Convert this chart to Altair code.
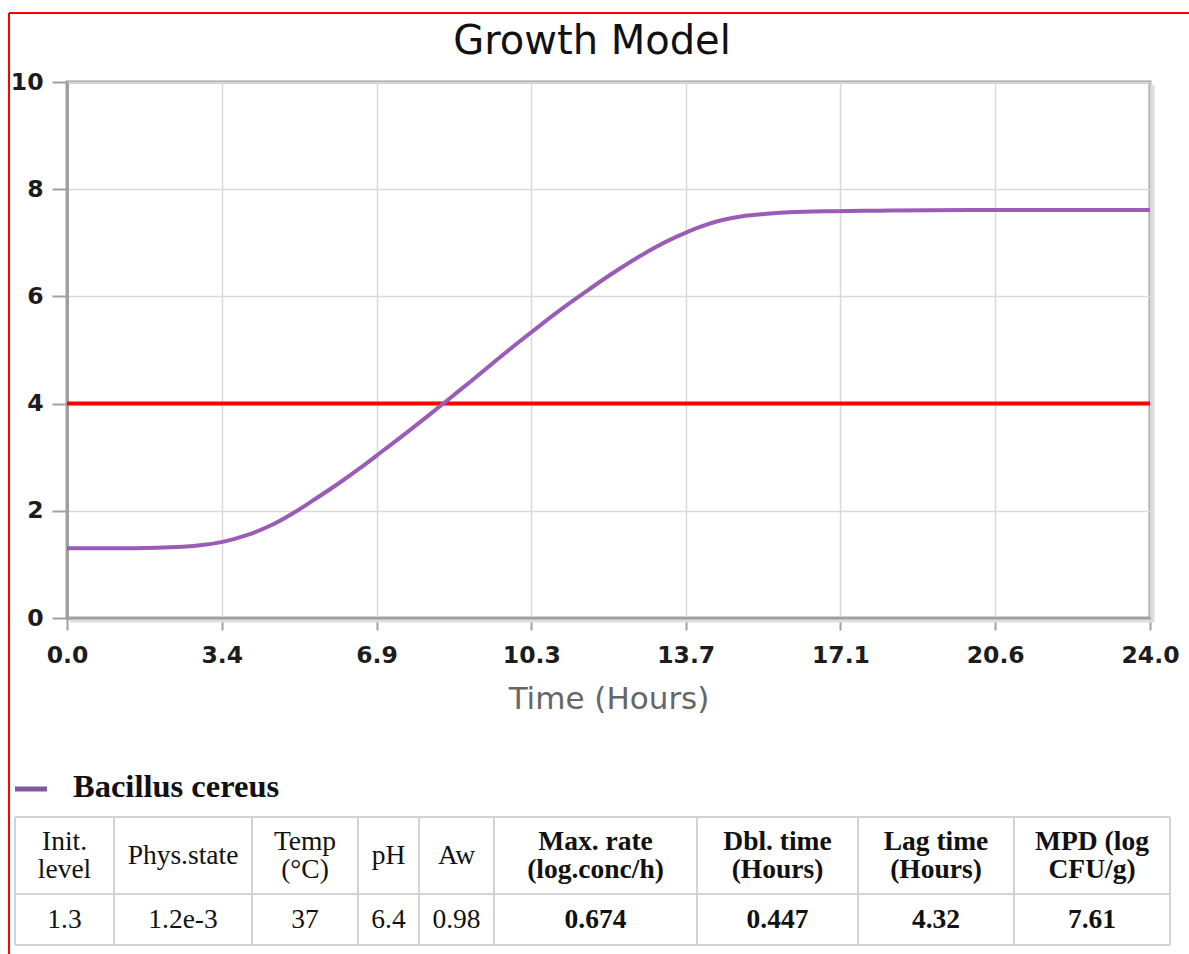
import altair as alt
import pandas as pd

# ---- data -------------------------------------------------------------
chart_title = "Growth Model"
series_name = "Bacillus cereus"

# predicted population (log CFU/g) against time (hours)
hours = [0, 1, 2, 3, 3.5, 4, 4.5, 5, 5.5, 6, 6.5, 7, 7.5, 8, 8.5, 9, 9.5, 10,
         10.5, 11, 11.5, 12, 12.5, 13, 13.5, 14, 14.5, 15, 15.5, 16, 17, 18, 20, 22, 24]
log_conc = [1.30, 1.30, 1.31, 1.36, 1.43, 1.55, 1.72, 1.95, 2.22, 2.50, 2.80, 3.12, 3.44, 3.77, 4.11, 4.45, 4.80, 5.14,
            5.47, 5.79, 6.09, 6.38, 6.65, 6.90, 7.11, 7.29, 7.42, 7.50, 7.54, 7.57, 7.59, 7.60, 7.61, 7.61, 7.61]

threshold = [4.0]

x_ticks = [0, 3.43, 6.86, 10.29, 13.71, 17.14, 20.57, 24.0]
y_ticks = [0, 2, 4, 6, 8, 10]

table_headers = ["Init.\nlevel", "Phys.state", "Temp\n(°C)", "pH", "Aw",
                 "Max. rate\n(log.conc/h)", "Dbl. time\n(Hours)", "Lag time\n(Hours)", "MPD (log\nCFU/g)"]
table_values = ["1.3", "1.2e-3", "37", "6.4", "0.98", "0.674", "0.447", "4.32", "7.61"]
table_bold = [False, False, False, False, False, True, True, True, True]

# ---- layout (pixels, relative to the plot origin) ----------------------
PLOT_W, PLOT_H = 1083, 536
PAD_L, PAD_T = 67, 82
CANVAS_W, CANVAS_H = 1189, 954

COL_WIDTHS = [99, 138, 106, 61, 75, 203, 161, 156, 156]
TABLE_LEFT = 15 - PAD_L
TABLE_TOP = 817 - PAD_T
TABLE_MID = 894 - PAD_T
TABLE_BOTTOM = 945 - PAD_T
LINE_H = 28

PURPLE = "#9b5cb7"
AXIS_GREY = "#a0a0a0"
SERIF = "Liberation Serif"
SANS = "DejaVu Sans"

# ---- growth curve + threshold -----------------------------------------
curve_df = pd.DataFrame({"hours": hours, "log_conc": log_conc})
thr_df = pd.DataFrame({"level": threshold})

x_scale = alt.Scale(domain=[0, 24], nice=False, zero=False)
y_scale = alt.Scale(domain=[0, 10], nice=False)

x_axis = alt.Axis(
    values=x_ticks, format=".1f", title="Time (Hours)",
    labelFont=SANS, labelFontSize=23.5, labelFontWeight="bold", labelColor="#1c1c1c",
    labelPadding=13, labelFlush=False, labelOverlap=False,
    tickSize=12, tickColor=AXIS_GREY, tickWidth=2,
    domainColor=AXIS_GREY, domainWidth=3,
    gridColor="#d9d9d9", gridWidth=1.5,
    titleFont=SANS, titleFontSize=31, titleFontWeight="normal", titleColor="#666666",
    titlePadding=18,
)
y_axis = alt.Axis(
    values=y_ticks, format="d", title=None,
    labelFont=SANS, labelFontSize=23.5, labelFontWeight="bold", labelColor="#1c1c1c",
    labelPadding=9, labelOverlap=False,
    tickSize=15, tickColor=AXIS_GREY, tickWidth=2,
    domainColor=AXIS_GREY, domainWidth=3,
    gridColor="#d9d9d9", gridWidth=1.5,
)

curve = alt.Chart(curve_df).mark_line(color=PURPLE, strokeWidth=4, interpolate="monotone").encode(
    x=alt.X("hours:Q", scale=x_scale, axis=x_axis),
    y=alt.Y("log_conc:Q", scale=y_scale, axis=y_axis),
)
thr_line = alt.Chart(thr_df).mark_rule(color="#ff0000", strokeWidth=4).encode(
    y=alt.Y("level:Q", scale=y_scale),
)
plot = alt.layer(thr_line, curve)

# soft shadow along the bottom and right frame edges
shadow_b = alt.Chart(thr_df).mark_rule(color="#dedede", strokeWidth=3).encode(
    x=alt.value(3), x2=alt.value(PLOT_W + 4), y=alt.value(PLOT_H + 3))
shadow_r = alt.Chart(thr_df).mark_rule(color="#dedede", strokeWidth=3).encode(
    x=alt.value(PLOT_W + 3), y=alt.value(3), y2=alt.value(PLOT_H + 4))

# ---- title -------------------------------------------------------------
title_df = pd.DataFrame({"label": [chart_title]})
title = alt.Chart(title_df).mark_text(
    font=SANS, fontSize=40, color="#111111", align="center", baseline="alphabetic"
).encode(text="label:N", x=alt.value(592 - PAD_L), y=alt.value(54 - PAD_T))

# ---- legend ------------------------------------------------------------
legend_df = pd.DataFrame({"label": [series_name]})
legend_line = alt.Chart(legend_df).mark_rule(color="#7d5a9a", strokeWidth=5).encode(
    x=alt.value(15 - PAD_L), x2=alt.value(47 - PAD_L), y=alt.value(789 - PAD_T))
legend_text = alt.Chart(legend_df).mark_text(
    font=SERIF, fontSize=32.5, fontWeight="bold", color="#111111", align="left", baseline="alphabetic"
).encode(text="label:N", x=alt.value(73 - PAD_L), y=alt.value(797 - PAD_T))

# ---- parameter table ---------------------------------------------------
edges = [TABLE_LEFT]
for w in COL_WIDTHS:
    edges.append(edges[-1] + w)
centers = [(edges[i] + edges[i + 1]) / 2 for i in range(len(COL_WIDTHS))]

cells = []
for i, (h, v, b) in enumerate(zip(table_headers, table_values, table_bold)):
    n_lines = h.count("\n") + 1
    head_cy = (TABLE_TOP + TABLE_MID) / 2 - (n_lines - 1) * LINE_H / 2
    cells.append({"cx": centers[i], "cy": head_cy, "label": h, "bold": b})
    cells.append({"cx": centers[i], "cy": (TABLE_MID + TABLE_BOTTOM) / 2, "label": v, "bold": b})
cells_df = pd.DataFrame(cells)

vlines_df = pd.DataFrame({"xe": edges, "top": TABLE_TOP, "bottom": TABLE_BOTTOM})
hlines_df = pd.DataFrame({"ye": [TABLE_TOP, TABLE_MID, TABLE_BOTTOM], "left": edges[0], "right": edges[-1]})

px = lambda f: alt.X(f, scale=None, axis=None)
py = lambda f: alt.Y(f, scale=None, axis=None)

vlines = alt.Chart(vlines_df).mark_rule(color="#d3d3d3", strokeWidth=2).encode(
    x=px("xe:Q"), y=py("top:Q"), y2="bottom:Q")
hlines = alt.Chart(hlines_df).mark_rule(color="#d3d3d3", strokeWidth=2).encode(
    y=py("ye:Q"), x=px("left:Q"), x2="right:Q")

def cell_text(weight, flag):
    return alt.Chart(cells_df).transform_filter(
        alt.datum.bold == flag
    ).mark_text(
        font=SERIF, fontSize=27.5, fontWeight=weight, color="#111111",
        align="center", baseline="middle", lineBreak="\n", lineHeight=LINE_H,
    ).encode(x=px("cx:Q"), y=py("cy:Q"), text="label:N")

table = alt.layer(vlines, hlines, cell_text("normal", False), cell_text("bold", True))

# ---- page frame --------------------------------------------------------
frame_top = alt.Chart(title_df).mark_rule(color="#ff0000", strokeWidth=2).encode(
    x=alt.value(9 - PAD_L), x2=alt.value(CANVAS_W - PAD_L), y=alt.value(13 - PAD_T))
frame_left = alt.Chart(title_df).mark_rule(color="#ff0000", strokeWidth=2).encode(
    x=alt.value(9 - PAD_L), y=alt.value(13 - PAD_T), y2=alt.value(CANVAS_H - PAD_T))

chart = alt.layer(
    shadow_b, shadow_r, plot, title, legend_line, legend_text, table, frame_top, frame_left
).resolve_scale(
    x="independent", y="independent"
).properties(
    width=PLOT_W, height=PLOT_H,
    autosize=alt.AutoSizeParams(type="none"),
    padding={"left": PAD_L, "top": PAD_T,
             "right": CANVAS_W - PAD_L - PLOT_W, "bottom": CANVAS_H - PAD_T - PLOT_H},
    background="white",
).configure_view(
    stroke=AXIS_GREY, strokeWidth=3
)

chart.save("out.html", embed_options={"renderer": "svg", "actions": False})
